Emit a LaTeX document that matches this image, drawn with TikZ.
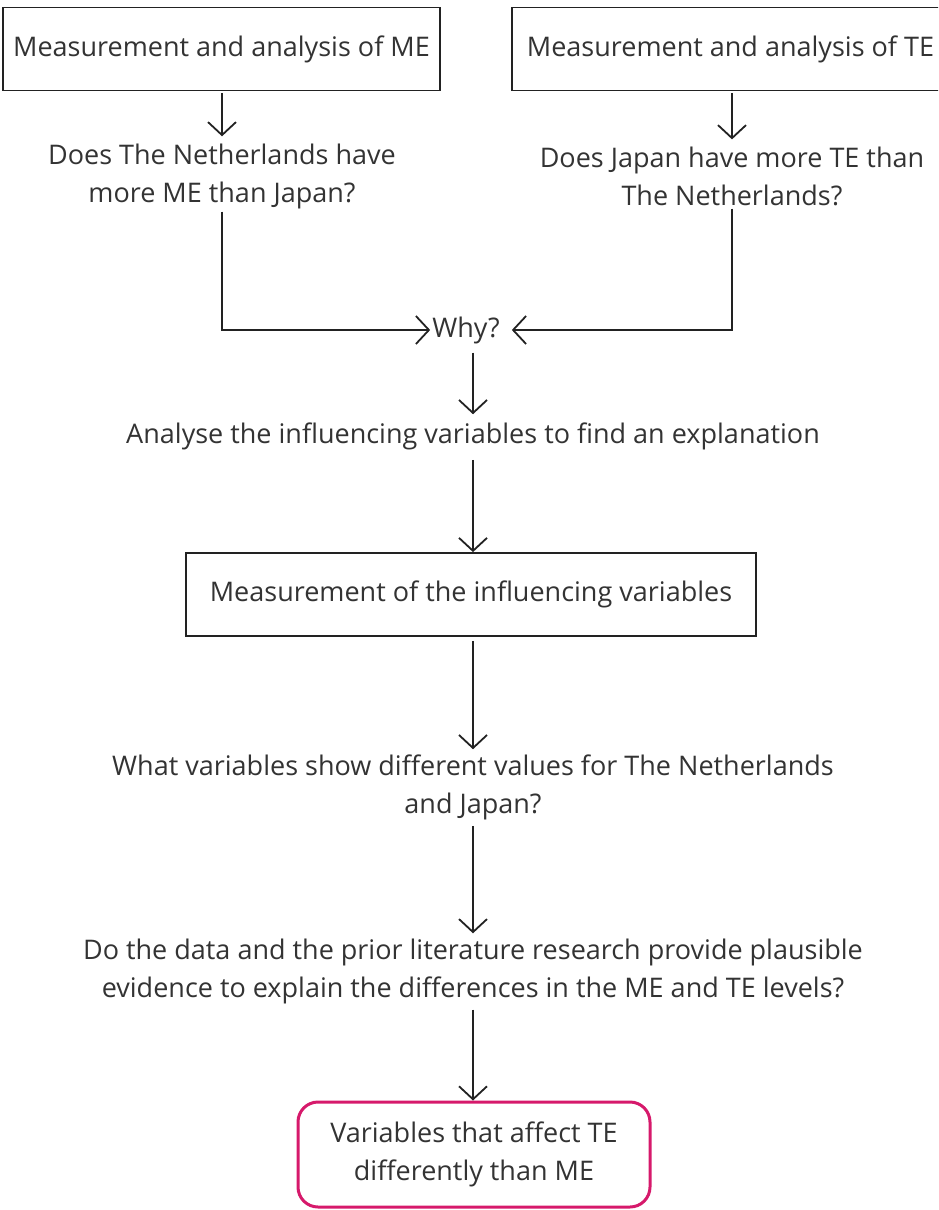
\documentclass[tikz,border=0pt]{standalone}
\usepackage{fontspec}
\setmainfont{Open Sans}
\usetikzlibrary{arrows.meta}
\definecolor{ink}{HTML}{333333}
\definecolor{edge}{HTML}{222222}
\definecolor{accent}{HTML}{D6196B}
\tikzset{
  txt/.style={text=ink, align=center, inner sep=0pt, font=\fontsize{27}{38}\selectfont},
  stepbox/.style={txt, draw=edge, line width=1.8pt, minimum width=#1, minimum height=83pt},
  goalbox/.style={txt, draw=accent, line width=3pt, rounded corners=20pt, minimum width=352pt, minimum height=105pt},
  flow/.style={draw=edge, line width=1.8pt, -{Straight Barb[length=13pt,width=28pt]}}
}
\begin{document}
\begin{tikzpicture}[x=1pt,y=-1pt]
\useasboundingbox (0,0) rectangle (938,1210);
\clip (0,0) rectangle (938,1210);

% top row: the two measurement boxes and their questions
\node[stepbox=437pt] (me) at (221.5,49) {Measurement and analysis of ME};
\node[stepbox=437pt] (te) at (730.5,49) {Measurement and analysis of TE};
\node[txt] (qme) at (222,176) {Does The Netherlands have\\more ME than Japan?};
\node[txt] (qte) at (732,176) {Does Japan have more TE than\\The Netherlands?};

% the merging question
\node[txt] (why) at (466,330) {Why?};

% central chain
\node[txt] (analyse) at (473,436) {Analyse the influencing variables to find an explanation};
\node[stepbox=570pt] (measure) at (471,594.5) {Measurement of the influencing variables};
\node[txt] (diff) at (473,787) {What variables show different values for The Netherlands\\and Japan?};
\node[txt] (evid) at (473,971) {Do the data and the prior literature research provide plausible\\evidence to explain the differences in the ME and TE levels?};
\node[goalbox] (goal) at (474,1154.5) {Variables that affect TE\\differently than ME};

% connectors (yshift is measured upward on the page)
\draw[flow] ([yshift=-2pt]me.south -| qme) -- ([yshift=7pt]qme.north);
\draw[flow] ([yshift=-2pt]te.south -| qte) -- ([yshift=7pt]qte.north);
\draw[flow] ([yshift=-3pt]qme.south) |- ([xshift=-2pt]why.west);
\draw[flow] ([yshift=-3pt]qte.south) |- ([xshift=12pt]why.east);
\draw[flow] ([yshift=-9pt]why.south -| analyse.north) -- ([yshift=8pt]analyse.north);
\draw[flow] ([yshift=-10pt]analyse.south) -- (analyse.south |- measure.north);
\draw[flow] ([yshift=-4pt]measure.south -| analyse) -- ([yshift=5pt]diff.north);
\draw[flow] ([yshift=-6pt]diff.south) -- ([yshift=5pt]evid.north);
\draw[flow] ([yshift=-6pt]evid.south) -- (evid.south |- goal.north);
\end{tikzpicture}
\end{document}
